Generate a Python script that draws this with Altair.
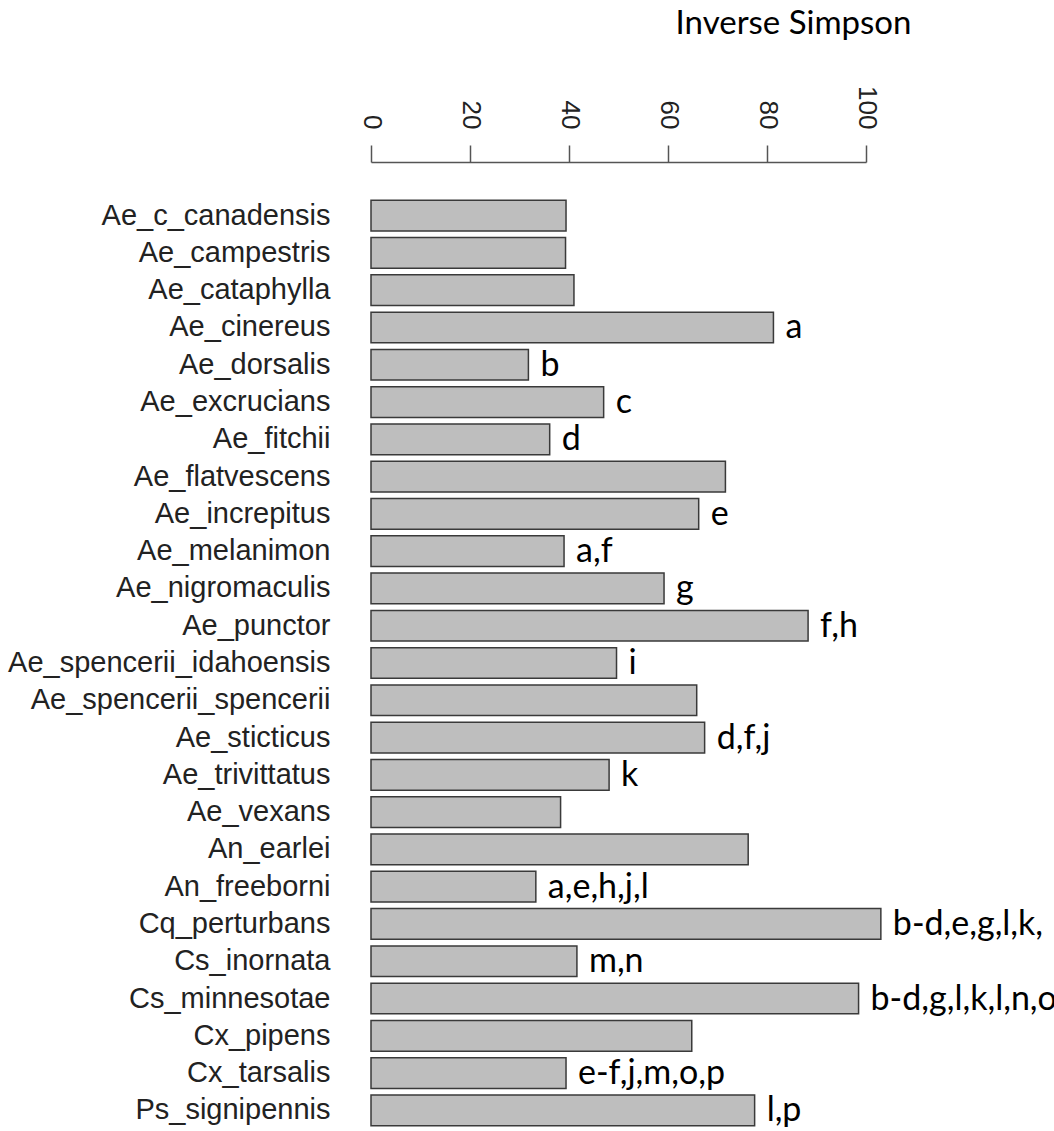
import altair as alt
import pandas as pd

# Species, inverse Simpson diversity index, and significance letters
species = [
    "Ae_c_canadensis", "Ae_campestris", "Ae_cataphylla", "Ae_cinereus",
    "Ae_dorsalis", "Ae_excrucians", "Ae_fitchii", "Ae_flatvescens",
    "Ae_increpitus", "Ae_melanimon", "Ae_nigromaculis", "Ae_punctor",
    "Ae_spencerii_idahoensis", "Ae_spencerii_spencerii", "Ae_sticticus",
    "Ae_trivittatus", "Ae_vexans", "An_earlei", "An_freeborni",
    "Cq_perturbans", "Cs_inornata", "Cs_minnesotae", "Cx_pipens",
    "Cx_tarsalis", "Ps_signipennis",
]
inv_simpson = [
    39.4, 39.3, 41.0, 81.3,
    31.8, 47.0, 36.1, 71.6,
    66.2, 39.0, 59.2, 88.3,
    49.6, 65.8, 67.4,
    48.1, 38.3, 76.2, 33.3,
    103.0, 41.6, 98.5, 64.8,
    39.4, 77.5,
]
letters = [
    "", "", "", "a",
    "b", "c", "d", "",
    "e", "a,f", "g", "f,h",
    "i", "", "d,f,j",
    "k", "", "", "a,e,h,j,l",
    "b-d,e,g,l,k,", "m,n", "b-d,g,l,k,l,n,o", "",
    "e-f,j,m,o,p", "l,p",
]
tick_values = [0, 20, 40, 60, 80, 100]

df = pd.DataFrame({"species": species, "value": inv_simpson, "letters": letters})

x_enc = alt.X(
    "value:Q",
    scale=alt.Scale(domain=[0, 100], nice=False, zero=True),
    axis=alt.Axis(
        orient="top",
        values=tick_values,
        offset=35,
        tickSize=17,
        tickWidth=1.5,
        tickColor="#555555",
        domainColor="#555555",
        domainWidth=1.5,
        grid=False,
        labelAngle=90,
        labelAlign="right",
        labelBaseline="middle",
        labelPadding=16,
        labelFont="Liberation Sans",
        labelFontSize=26,
        labelColor="#222222",
        labelFlush=False,
        labelOverlap=False,
        title="Inverse Simpson",
        titleFont="Lato",
        titleFontSize=33,
        titleFontWeight="normal",
        titleColor="#000000",
        titleAlign="center",
        titleBaseline="alphabetic",
        titleX=422,
        titleY=-129,
        titleAngle=0,
    ),
)

y_enc = alt.Y(
    "species:N",
    sort=species,
    scale=alt.Scale(paddingInner=0.177, paddingOuter=0.0885),
    axis=alt.Axis(
        domain=False,
        ticks=False,
        labelPadding=41,
        labelFont="Liberation Sans",
        labelFontSize=29,
        labelColor="#222222",
        labelLimit=0,
        title=None,
    ),
)

bars = alt.Chart(df).mark_bar(
    color="#BEBEBE",
    stroke="#3a3a3a",
    strokeWidth=1.5,
).encode(x=x_enc, y=y_enc)

marks = alt.Chart(df).mark_text(
    align="left",
    baseline="alphabetic",
    dx=12,
    dy=11,
    font="Lato",
    fontSize=34,
    color="#000000",
).encode(
    x=alt.X("value:Q"),
    y=alt.Y("species:N", sort=species),
    text="letters:N",
)

chart = (
    alt.layer(bars, marks)
    .properties(
        width=495,
        height=932,
        background="white",
        autosize=alt.AutoSizeParams(type="none"),
        padding={"left": 371, "top": 197, "right": 188, "bottom": 2},
    )
    .configure_view(strokeWidth=0, stroke="transparent")
)

chart.save("out.html", embed_options={"renderer": "svg", "actions": False})
